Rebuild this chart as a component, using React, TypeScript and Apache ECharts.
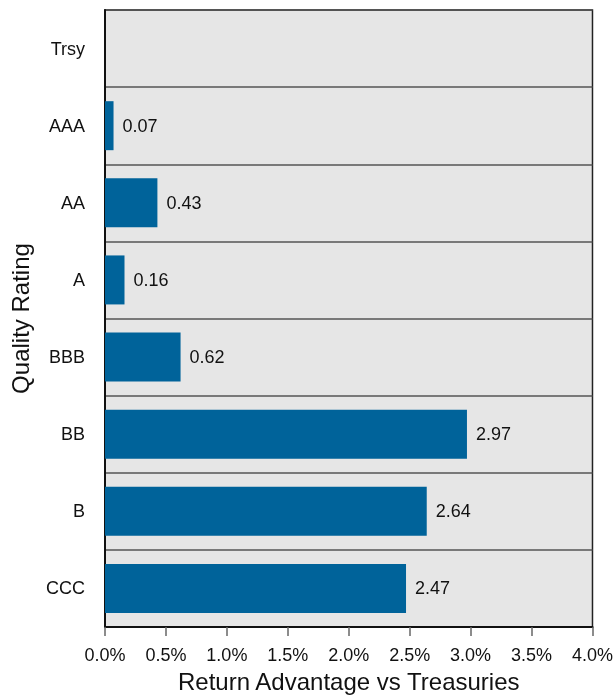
import React, { useEffect, useRef } from "react";
import * as echarts from "echarts";

const categories = ["Trsy", "AAA", "AA", "A", "BBB", "BB", "B", "CCC"];
const values: (number | null)[] = [null, 0.07, 0.43, 0.16, 0.62, 2.97, 2.64, 2.47];
const xTicks = { min: 0, max: 4, interval: 0.5 };

export default function App() {
  const ref = useRef<HTMLDivElement>(null);
  useEffect(() => {
    if (!ref.current) return;
    const chart = echarts.init(ref.current, null, { renderer: "svg" });
    const font = "Liberation Sans, Arial, sans-serif";
    chart.setOption({
      animation: false,
      textStyle: { fontFamily: font },
      grid: {
        left: 103,
        right: 23,
        top: 10,
        bottom: 65,
        show: true,
        backgroundColor: "#e6e6e6",
        borderColor: "#222",
        borderWidth: 1.5,
      },
      xAxis: {
        type: "value",
        min: xTicks.min,
        max: xTicks.max,
        interval: xTicks.interval,
        name: "Return Advantage vs Treasuries",
        nameLocation: "middle",
        nameGap: 42,
        nameTextStyle: { fontSize: 24, color: "#111", fontFamily: font },
        axisLine: { show: true, lineStyle: { color: "#111", width: 2 } },
        axisTick: { show: true, length: 9, lineStyle: { color: "#666", width: 1.5 } },
        axisLabel: {
          fontSize: 18,
          color: "#111",
          margin: 19,
          fontFamily: font,
          formatter: (v: number) => v.toFixed(1) + "%",
        },
        splitLine: { show: false },
      },
      yAxis: {
        type: "category",
        data: categories,
        inverse: true,
        name: "Quality Rating",
        nameLocation: "middle",
        nameGap: 73,
        nameTextStyle: { fontSize: 24, color: "#111", fontFamily: font },
        axisLine: { show: true, lineStyle: { color: "#111", width: 2 } },
        axisTick: { show: false },
        axisLabel: { fontSize: 18, color: "#111", margin: 20, fontFamily: font },
        splitLine: { show: true, lineStyle: { color: "#555", width: 1.5 } },
      },
      series: [
        {
          type: "bar",
          data: values,
          barWidth: 49,
          itemStyle: { color: "#00639a" },
          label: {
            show: true,
            position: "right",
            distance: 9,
            fontSize: 18,
            color: "#111",
            fontFamily: font,
            formatter: (p: any) => (p.value == null ? "" : Number(p.value).toFixed(2)),
          },
        },
      ],
    });
    return () => chart.dispose();
  }, []);
  return (
    <div
      ref={ref}
      style={{ position: "fixed", left: 0, top: 0, width: 616, height: 698 }}
    />
  );
}
